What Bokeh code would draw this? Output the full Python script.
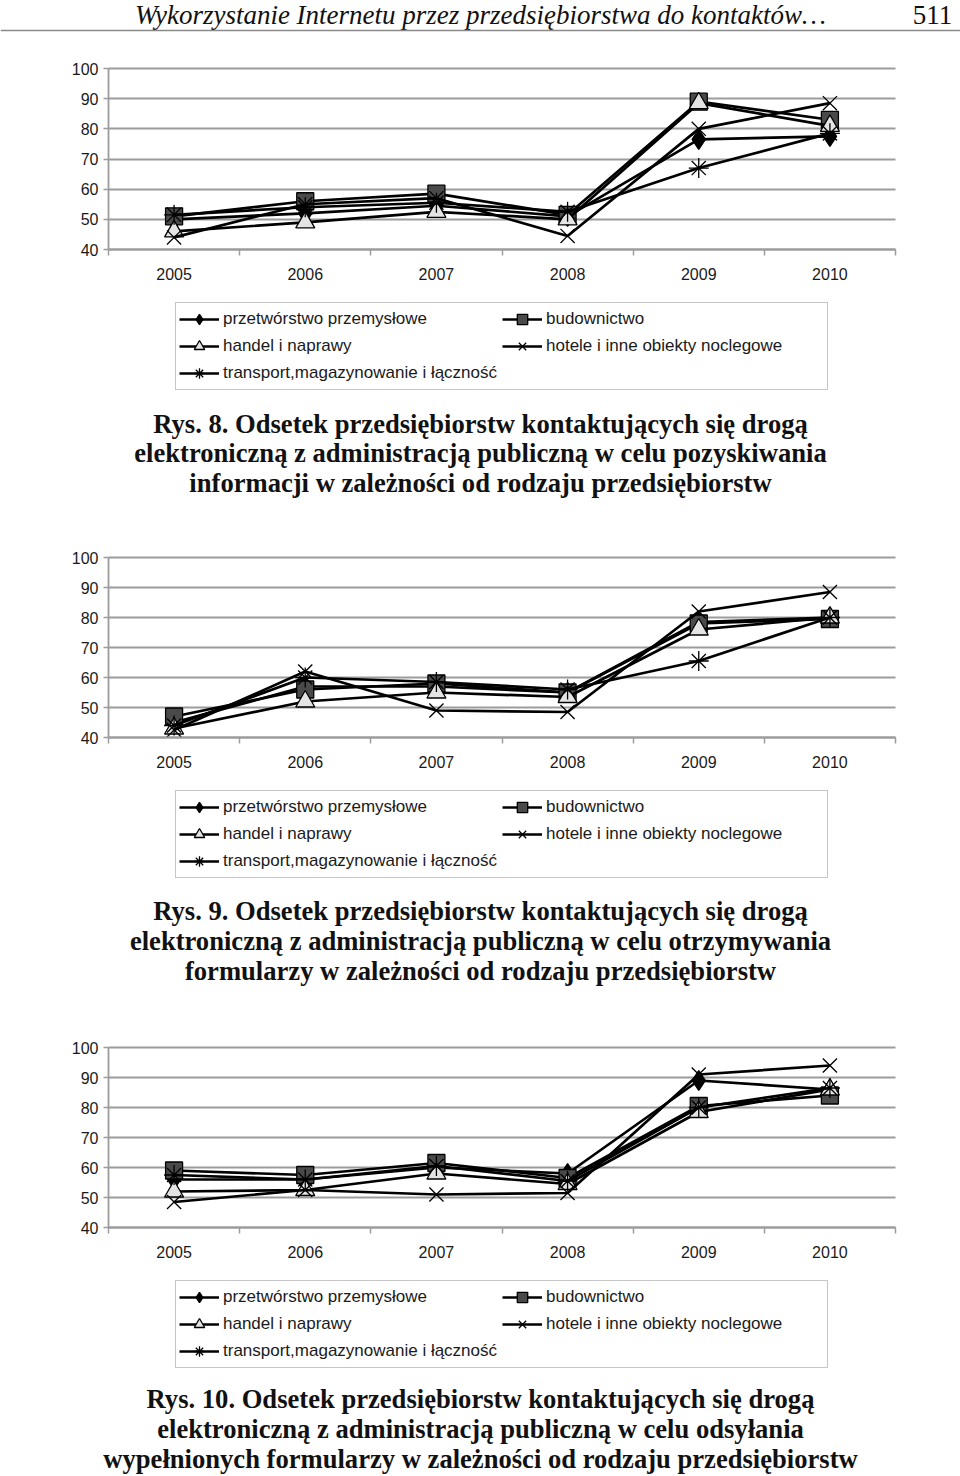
from bokeh.plotting import figure
from bokeh.models import Range1d, FixedTicker, Legend, LegendItem, Label, Span
from bokeh.layouts import column
from bokeh.embed import file_html
from bokeh.resources import INLINE

# ---------------- data ----------------
years = ["2005", "2006", "2007", "2008", "2009", "2010"]
series_names = [
    "przetwórstwo przemysłowe",
    "budownictwo",
    "handel i naprawy",
    "hotele i inne obiekty noclegowe",
    "transport,magazynowanie i łączność",
]
y_ticks = [40, 50, 60, 70, 80, 90, 100]

# Rys. 8 - pozyskiwanie informacji
rys8_przetworstwo = [50, 52, 54.5, 51, 76.5, 77.5]
rys8_budownictwo = [51, 56, 58.5, 51.5, 89, 83]
rys8_handel = [46, 49, 52.5, 50, 88.5, 81]
rys8_hotele = [44, 55, 57, 44.5, 80, 88.5]
rys8_transport = [51.5, 54, 55.5, 52.5, 67, 78.5]

# Rys. 9 - otrzymywanie formularzy
rys9_przetworstwo = [45, 57, 57, 55, 78.5, 80]
rys9_budownictwo = [47, 56, 58, 55, 78, 79.5]
rys9_handel = [43, 52, 55, 53.5, 76, 80]
rys9_hotele = [42.5, 62, 49, 48.5, 82, 88.5]
rys9_transport = [44, 60, 58.5, 56, 65.5, 80]

# Rys. 10 - odsyłanie wypełnionych formularzy
rys10_przetworstwo = [56, 56, 60, 58, 89, 86]
rys10_budownictwo = [59, 57.5, 61.5, 56.5, 80.5, 84]
rys10_handel = [52, 52.5, 58, 54.5, 78.5, 86]
rys10_hotele = [48.5, 52.5, 51, 51.5, 91, 94]
rys10_transport = [57.5, 56, 60.5, 55.5, 80, 86.5]

header_text = "Wykorzystanie Internetu przez przedsiębiorstwa do kontaktów…"
page_number = "511"

captions = [
    ["Rys. 8. Odsetek przedsiębiorstw kontaktujących się drogą",
     "elektroniczną z administracją publiczną w celu pozyskiwania",
     "informacji w zależności od rodzaju przedsiębiorstw"],
    ["Rys. 9. Odsetek przedsiębiorstw kontaktujących się drogą",
     "elektroniczną z administracją publiczną w celu otrzymywania",
     "formularzy w zależności od rodzaju przedsiębiorstw"],
    ["Rys. 10. Odsetek przedsiębiorstw kontaktujących się drogą",
     "elektroniczną z administracją publiczną w celu odsyłania",
     "wypełnionych formularzy w zależności od rodzaju przedsiębiorstw"],
]

# ---------------- layout / styles ----------------
W = 960
PLOT_L, PLOT_R = 108, 895      # page x of the plot area
SANS = "Liberation Sans"
SERIF = "Liberation Serif"
GRID = "#9c9c9c"
marker_styles = [
    dict(marker="diamond", fill_color="black", size=20),
    dict(marker="square", fill_color="#4a4a4a", size=17),
    dict(marker="triangle", fill_color="#e4e4e4", size=19),
    dict(marker="x", fill_color="black", size=20),
    dict(marker="asterisk", fill_color="black", size=20),
]


def block(series, top_px, bottom_px, y100_px, y40_px, legend_bottom_px,
          caption_lines, caption_ys, header=False):
    H = bottom_px - top_px
    n = len(years)
    ymin, ymax = y_ticks[0], y_ticks[-1]
    ppu = (y40_px - y100_px) / (ymax - ymin)
    cat_w = (PLOT_R - PLOT_L) / n
    x_rng = Range1d(-PLOT_L / cat_w, (W - PLOT_L) / cat_w)
    y_rng = Range1d(ymin - (bottom_px - y40_px) / ppu, ymax + (y100_px - top_px) / ppu)

    p = figure(width=W, height=H, output_backend="svg", toolbar_location=None,
               x_range=x_rng, y_range=y_rng, min_border=0)
    p.extra_x_ranges = {"px": Range1d(0, W)}
    p.extra_y_ranges = {"px": Range1d(bottom_px, top_px)}
    p.outline_line_color = None
    p.xgrid.grid_line_color = None

    centers = [i + 0.5 for i in range(n)]
    bounds = [float(i) for i in range(n + 1)]

    g = p.ygrid[0]
    g.ticker = FixedTicker(ticks=y_ticks)
    if "cross_bounds" in g.properties():
        g.cross_bounds = (0, n)
        g.grid_line_color = GRID
        g.grid_line_width = 1.8
    else:
        g.grid_line_color = None
        p.segment(x0=[0] * len(y_ticks), x1=[n] * len(y_ticks), y0=y_ticks, y1=y_ticks,
                  line_color=GRID, line_width=1.8, level="underlay")

    xa, ya = p.xaxis[0], p.yaxis[0]
    xa.fixed_location = ymin
    ya.fixed_location = 0
    xa.bounds = (0, n)
    ya.bounds = (ymin, ymax)
    ya.ticker = FixedTicker(ticks=y_ticks)
    xa.ticker = FixedTicker(ticks=centers, minor_ticks=bounds)
    xa.major_label_overrides = {c: y for c, y in zip(centers, years)}
    for ax in (xa, ya):
        ax.axis_line_color = GRID
        ax.axis_line_width = 1.8
        ax.major_label_text_font = SANS
        ax.major_label_text_font_size = "16px"
        ax.major_label_text_color = "#1a1a1a"
    xa.major_tick_line_color = None
    xa.minor_tick_line_color = GRID
    xa.minor_tick_line_width = 1.5
    xa.minor_tick_in = 0
    xa.minor_tick_out = 6
    xa.major_label_standoff = 12
    ya.major_tick_line_color = GRID
    ya.major_tick_line_width = 1.5
    ya.major_tick_in = 0
    ya.major_tick_out = 5
    ya.minor_tick_line_color = None
    ya.major_label_standoff = 5

    items = []
    for name, vals, st in zip(series_names, series, marker_styles):
        ln = p.line(centers, vals, line_color="black", line_width=2.7)
        sc = p.scatter(centers, vals, marker=st["marker"], size=st["size"],
                       fill_color=st["fill_color"], line_color="black", line_width=1.3)
        items.append(LegendItem(label=name, renderers=[ln, sc]))
    leg = Legend(items=items, ncols=2, orientation="horizontal",
                 location=(175, bottom_px - legend_bottom_px),
                 label_text_font=SANS, label_text_font_size="17px", label_text_color="#1a1a1a",
                 glyph_width=40, glyph_height=26, label_standoff=4, spacing=1,
                 label_width=278, padding=3, margin=0,
                 border_line_color="#8c8c8c", border_line_width=1.5,
                 background_fill_color="white", background_fill_alpha=1.0)
    p.add_layout(leg, "center")

    for t, y in zip(caption_lines, caption_ys):
        p.add_layout(Label(x=480, y=y, x_range_name="px", y_range_name="px", text=t,
                           text_align="center", text_baseline="middle",
                           text_font=SERIF, text_font_size="26.6px", text_font_style="bold",
                           text_color="#111111"))
    if header:
        p.add_layout(Label(x=480, y=14, x_range_name="px", y_range_name="px", text=header_text,
                           text_align="center", text_baseline="middle",
                           text_font=SERIF, text_font_size="27px", text_font_style="italic",
                           text_color="#111111"))
        p.add_layout(Label(x=932, y=14, x_range_name="px", y_range_name="px", text=page_number,
                           text_align="center", text_baseline="middle",
                           text_font=SERIF, text_font_size="27px", text_color="#111111"))
        p.add_layout(Span(location=30, dimension="width", y_range_name="px",
                          line_color="#8a8a8a", line_width=1.5))
    return p


b1 = block([rys8_przetworstwo, rys8_budownictwo, rys8_handel, rys8_hotele, rys8_transport],
           0, 530, 68, 249, 390, captions[0], [423, 452, 482], header=True)
b2 = block([rys9_przetworstwo, rys9_budownictwo, rys9_handel, rys9_hotele, rys9_transport],
           530, 1020, 557, 737, 878, captions[1], [910, 940, 970])
b3 = block([rys10_przetworstwo, rys10_budownictwo, rys10_handel, rys10_hotele, rys10_transport],
           1020, 1476, 1047, 1227, 1368, captions[2], [1398, 1428, 1458])

layout = column(b1, b2, b3, spacing=0)
open("out.html", "w").write(file_html(layout, INLINE))
